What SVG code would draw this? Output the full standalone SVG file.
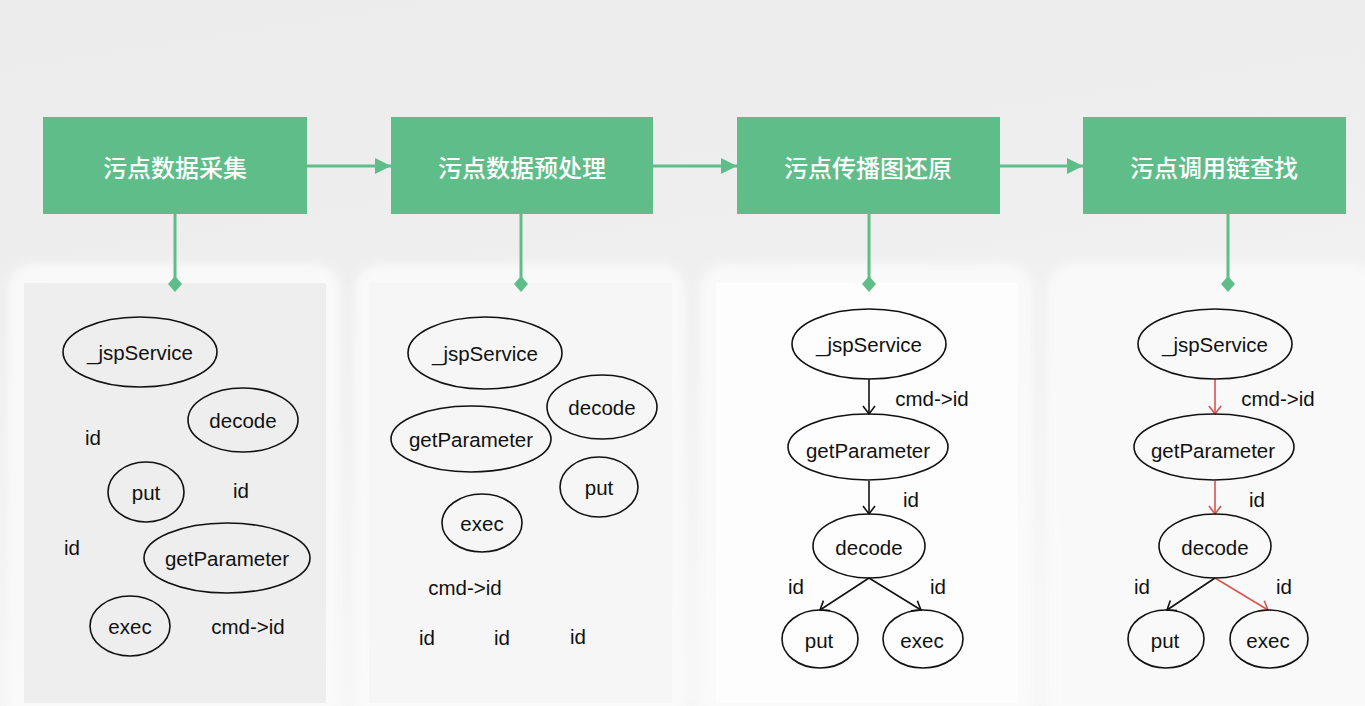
<svg xmlns="http://www.w3.org/2000/svg" width="1365" height="706" viewBox="0 0 1365 706">
<defs>
<linearGradient id="bg" x1="0" y1="0" x2="0.3" y2="1">
<stop offset="0" stop-color="#ececec"/>
<stop offset="0.4" stop-color="#eeeeee"/>
<stop offset="1" stop-color="#f6f6f6"/>
</linearGradient>
<filter id="glow" x="-10%" y="-10%" width="120%" height="120%">
<feGaussianBlur stdDeviation="4"/>
</filter>
<marker id="tri" markerUnits="userSpaceOnUse" markerWidth="18" markerHeight="18" refX="16" refY="8" orient="auto">
<path d="M0,0 L16,8 L0,16 Z" fill="#5fbd8a"/>
</marker>
<marker id="dia" markerUnits="userSpaceOnUse" markerWidth="16" markerHeight="16" refX="8" refY="8" orient="auto">
<path d="M0,8 L8,1 L16,8 L8,15 Z" fill="#5fbd8a"/>
</marker>
<marker id="open" markerUnits="userSpaceOnUse" markerWidth="16" markerHeight="16" refX="9" refY="7" orient="auto">
<path d="M1,1 L9,7 L1,13" fill="none" stroke="#111" stroke-width="1.6"/>
</marker>
<marker id="openr" markerUnits="userSpaceOnUse" markerWidth="16" markerHeight="16" refX="9" refY="7" orient="auto">
<path d="M1,1 L9,7 L1,13" fill="none" stroke="#d9534f" stroke-width="1.6"/>
</marker>
</defs>
<style>
.step{fill:#5fbd8a}
.steptxt{font-family:"Noto Sans CJK SC","Noto Sans",sans-serif;font-size:24px;font-weight:500;fill:#ffffff;text-anchor:middle;dominant-baseline:central}
.g{stroke:#5fbd8a;stroke-width:3;fill:none}
.outer{fill:#fbfbfb;opacity:0.85;filter:url(#glow)}
.n{fill:none;stroke:#111;stroke-width:1.6}
.t{font-family:"Liberation Sans",Arial,sans-serif;font-size:20.5px;fill:#111;text-anchor:middle;dominant-baseline:central}
.e{stroke:#111;stroke-width:1.6;fill:none;marker-end:url(#open)}
.er{stroke:#d9534f;stroke-width:1.6;fill:none;marker-end:url(#openr)}
</style>
<rect x="0" y="0" width="1365" height="706" fill="url(#bg)"/>

<g id="panels">
<rect class="outer" x="8" y="264" width="332" height="460" rx="26"/>
<rect x="24" y="283" width="302" height="420" fill="#eeeeee"/>
<rect class="outer" x="355" y="264" width="330" height="460" rx="26"/>
<rect x="369" y="283" width="303" height="420" fill="#f6f6f6"/>
<rect class="outer" x="700" y="264" width="333" height="460" rx="26"/>
<rect x="716" y="283" width="302" height="420" fill="#fdfdfd"/>
<rect class="outer" x="1047" y="264" width="330" height="460" rx="26"/>
<rect x="1062" y="283" width="303" height="420" fill="#f9f9f9"/>
</g>

<g id="connectors">
<line class="g" x1="307" y1="166" x2="391" y2="166" marker-end="url(#tri)"/>
<line class="g" x1="653" y1="166" x2="737" y2="166" marker-end="url(#tri)"/>
<line class="g" x1="1000" y1="166" x2="1083" y2="166" marker-end="url(#tri)"/>
<line class="g" x1="175" y1="214" x2="175" y2="284" marker-end="url(#dia)"/>
<line class="g" x1="521" y1="214" x2="521" y2="284" marker-end="url(#dia)"/>
<line class="g" x1="869" y1="214" x2="869" y2="284" marker-end="url(#dia)"/>
<line class="g" x1="1228" y1="214" x2="1228" y2="284" marker-end="url(#dia)"/>
<line class="e" x1="869" y1="379" x2="869" y2="414"/>
<line class="e" x1="869" y1="481" x2="869" y2="514"/>
<line class="e" x1="869" y1="578" x2="820" y2="610"/>
<line class="e" x1="869" y1="578" x2="921" y2="610"/>
<line class="er" x1="1215" y1="379" x2="1215" y2="414"/>
<line class="er" x1="1215" y1="481" x2="1215" y2="514"/>
<line class="e" x1="1215" y1="578" x2="1167" y2="610"/>
<line class="er" x1="1215" y1="578" x2="1268" y2="610"/>
</g>

<g id="step1"><rect class="step" x="43" y="117" width="264" height="97"/><text class="steptxt" x="175" y="166">污点数据采集</text></g>
<g id="step2"><rect class="step" x="391" y="117" width="262" height="97"/><text class="steptxt" x="522" y="166">污点数据预处理</text></g>
<g id="step3"><rect class="step" x="737" y="117" width="263" height="97"/><text class="steptxt" x="868" y="166">污点传播图还原</text></g>
<g id="step4"><rect class="step" x="1083" y="117" width="263" height="97"/><text class="steptxt" x="1214" y="166">污点调用链查找</text></g>

<g id="p1-jspService"><ellipse class="n" cx="140" cy="352" rx="77" ry="35"/><text class="t" x="140" y="352">_jspService</text></g>
<g id="p1-decode"><ellipse class="n" cx="243" cy="420" rx="55" ry="32"/><text class="t" x="243" y="420">decode</text></g>
<g id="p1-put"><ellipse class="n" cx="146" cy="492" rx="38" ry="30"/><text class="t" x="146" y="492">put</text></g>
<g id="p1-getParameter"><ellipse class="n" cx="227" cy="558" rx="83" ry="35"/><text class="t" x="227" y="558">getParameter</text></g>
<g id="p1-exec"><ellipse class="n" cx="130" cy="626" rx="40" ry="30"/><text class="t" x="130" y="626">exec</text></g>
<g id="p1-labels">
<text class="t" x="93" y="437">id</text>
<text class="t" x="241" y="490">id</text>
<text class="t" x="72" y="547">id</text>
<text class="t" x="248" y="626">cmd-&gt;id</text>
</g>

<g id="p2-jspService"><ellipse class="n" cx="485" cy="353" rx="77" ry="36"/><text class="t" x="485" y="353">_jspService</text></g>
<g id="p2-decode"><ellipse class="n" cx="602" cy="407" rx="55" ry="32"/><text class="t" x="602" y="407">decode</text></g>
<g id="p2-getParameter"><ellipse class="n" cx="471" cy="439" rx="80" ry="33"/><text class="t" x="471" y="439">getParameter</text></g>
<g id="p2-put"><ellipse class="n" cx="599" cy="487" rx="39" ry="30"/><text class="t" x="599" y="487">put</text></g>
<g id="p2-exec"><ellipse class="n" cx="482" cy="523" rx="40" ry="29"/><text class="t" x="482" y="523">exec</text></g>
<g id="p2-labels">
<text class="t" x="465" y="587">cmd-&gt;id</text>
<text class="t" x="427" y="637">id</text>
<text class="t" x="502" y="637">id</text>
<text class="t" x="578" y="636">id</text>
</g>

<g id="p3-jspService"><ellipse class="n" cx="869" cy="344" rx="77" ry="35"/><text class="t" x="869" y="344">_jspService</text></g>
<g id="p3-getParameter"><ellipse class="n" cx="868" cy="447" rx="80" ry="33"/><text class="t" x="868" y="450">getParameter</text></g>
<g id="p3-decode"><ellipse class="n" cx="869" cy="546" rx="56" ry="32"/><text class="t" x="869" y="547">decode</text></g>
<g id="p3-put"><ellipse class="n" cx="820" cy="639" rx="38" ry="29"/><text class="t" x="819" y="640">put</text></g>
<g id="p3-exec"><ellipse class="n" cx="923" cy="639" rx="40" ry="29"/><text class="t" x="922" y="640">exec</text></g>
<g id="p3-labels">
<text class="t" x="932" y="398">cmd-&gt;id</text>
<text class="t" x="911" y="499">id</text>
<text class="t" x="796" y="586">id</text>
<text class="t" x="938" y="586">id</text>
</g>

<g id="p4-jspService"><ellipse class="n" cx="1215" cy="344" rx="77" ry="35"/><text class="t" x="1215" y="344">_jspService</text></g>
<g id="p4-getParameter"><ellipse class="n" cx="1214" cy="447" rx="80" ry="33"/><text class="t" x="1213" y="450">getParameter</text></g>
<g id="p4-decode"><ellipse class="n" cx="1215" cy="546" rx="56" ry="32"/><text class="t" x="1215" y="547">decode</text></g>
<g id="p4-put"><ellipse class="n" cx="1166" cy="639" rx="38" ry="29"/><text class="t" x="1165" y="640">put</text></g>
<g id="p4-exec"><ellipse class="n" cx="1269" cy="639" rx="39" ry="29"/><text class="t" x="1268" y="640">exec</text></g>
<g id="p4-labels">
<text class="t" x="1278" y="398">cmd-&gt;id</text>
<text class="t" x="1257" y="499">id</text>
<text class="t" x="1142" y="586">id</text>
<text class="t" x="1284" y="586">id</text>
</g>
</svg>
